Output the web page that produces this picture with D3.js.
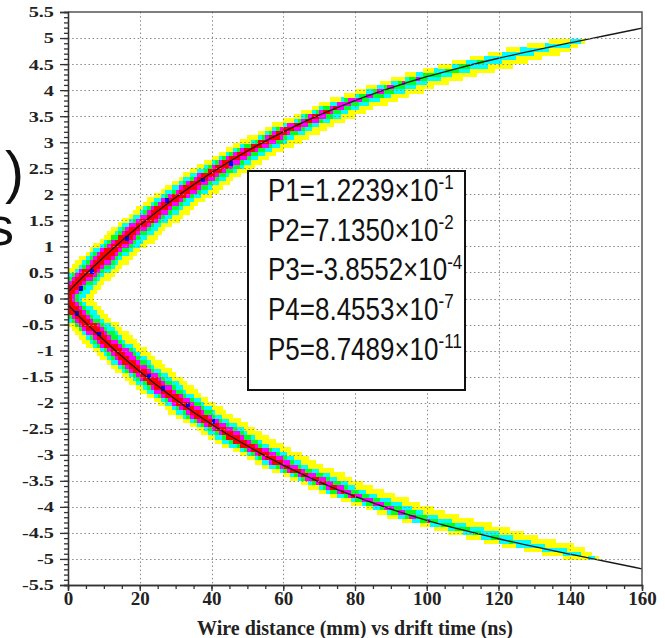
<!DOCTYPE html>
<html><head><meta charset="utf-8">
<script src="https://cdn.jsdelivr.net/npm/d3@7"></script>
<style>html,body{margin:0;padding:0;background:#fff;} svg{display:block;}</style>
</head><body>
<svg id="c" width="665" height="638"></svg>
<script>
// ---------------- data ----------------
const xMajor = [0,20,40,60,80,100,120,140,160];
const xMajorLabels = ["0","20","40","60","80","100","120","140","160"];
const yMajor = [-5.5,-5,-4.5,-4,-3.5,-3,-2.5,-2,-1.5,-1,-0.5,0,0.5,1,1.5,2,2.5,3,3.5,4,4.5,5,5.5];
const yMajorLabels = ["-5.5","-5","-4.5","-4","-3.5","-3","-2.5","-2","-1.5","-1","-0.5","0","0.5","1","1.5","2","2.5","3","3.5","4","4.5","5","5.5"];
const xGrid = [20,40,60,80,100,120,140];
const yGrid = [-5,-4.5,-4,-3.5,-3,-2.5,-2,-1.5,-1,-0.5,0,0.5,1,1.5,2,2.5,3,3.5,4,4.5,5];

// fit curve (|distance| vs drift time)
const fitT   = [0,2,5,10,15,20,30,40,50,60,70,80,90,100,110,120,130,140,150,160];
const fitMag = [0.122,0.264,0.470,0.798,1.109,1.402,1.939,2.414,2.832,3.199,3.520,3.800,4.043,4.257,4.444,4.612,4.765,4.909,5.049,5.190];

// 2D histogram band, sampled along drift time (1 ns x 0.08 mm bins)
const binT = 1, binY = 0.08;
const bandT   = [0,5,10,20,30,40,50,60,70,80,90,100,110,120,130,140,145,150];
const bandMag = [0.122,0.470,0.798,1.402,1.939,2.414,2.832,3.199,3.520,3.800,4.043,4.257,4.444,4.612,4.765,4.909,4.979,5.049];
const outerOff = [0.40,0.39,0.38,0.36,0.32,0.28,0.24,0.21,0.19,0.17,0.15,0.14,0.13,0.12,0.11,0.10,0.09,0.09];
const innerOff = [0.57,0.55,0.55,0.52,0.48,0.44,0.40,0.37,0.34,0.31,0.28,0.26,0.24,0.22,0.20,0.18,0.17,0.17];

// fraction of band width covered by each colour level (upper branch)
const upYellow  = [1,1,1,1,1,1,1,1,1,1,1,1,1,1,1,0.8,0,0];
const upCyan    = [0.72,0.72,0.72,0.7,0.7,0.68,0.66,0.64,0.62,0.6,0.58,0.52,0.48,0.45,0.4,0.25,0,0];
const upGreen   = [0.55,0.55,0.55,0.52,0.5,0.5,0.48,0.46,0.42,0.38,0.32,0.25,0.15,0,0,0,0,0];
const upMagenta = [0.42,0.42,0.4,0.38,0.36,0.36,0.34,0.32,0.28,0.2,0.1,0,0,0,0,0,0,0];
const upRed     = [0.25,0.25,0.24,0.22,0.22,0.2,0.2,0.16,0.1,0,0,0,0,0,0,0,0,0];
// lower branch
const loYellow  = [1,1,1,1,1,1,1,1,1,1,1,1,1,1,1,1,0.7,0];
const loCyan    = [0.72,0.72,0.72,0.7,0.7,0.68,0.66,0.64,0.62,0.6,0.58,0.52,0.48,0.45,0.4,0.32,0.15,0];
const loGreen   = [0.55,0.55,0.55,0.52,0.5,0.5,0.48,0.46,0.44,0.4,0.34,0.28,0.18,0.08,0,0,0,0];
const loMagenta = [0.42,0.42,0.4,0.38,0.36,0.36,0.34,0.32,0.3,0.24,0.14,0.06,0,0,0,0,0,0];
const loRed     = [0.25,0.25,0.24,0.22,0.22,0.2,0.2,0.18,0.12,0.06,0,0,0,0,0,0,0,0];

const levelColors = ["#ffff00","#00ffff","#00ff22","#ff00ff","#ff0000"];

// isolated highest-density (blue) cells: time, distance
const blueT = [3,6,16,27,37,45,2,8,22,26,33,40];
const blueY = [0.2,0.55,1.15,1.85,2.3,2.6,-0.3,-0.7,-1.45,-1.75,-2.05,-2.4];

// fit parameters box
const parNames = ["P1","P2","P3","P4","P5"];
const parMant  = ["1.2239","7.1350","-3.8552","8.4553","8.7489"];
const parExp   = ["-1","-2","-4","-7","-11"];

// ---------------- drawing ----------------
const W = 665, H = 638;
const svg = d3.select("#c");
const x = d3.scaleLinear().domain([0,160]).range([68,642]);
const y = d3.scaleLinear().domain([-5.5,5.5]).range([585,12]);

svg.append("rect").attr("width",W).attr("height",H).attr("fill","#fff");
svg.append("defs").append("clipPath").attr("id","clip")
  .append("rect").attr("x",x(0)).attr("y",y(5.5)).attr("width",x(160)-x(0)).attr("height",y(-5.5)-y(5.5));
const plot = svg.append("g").attr("clip-path","url(#clip)");

// rasterise the band levels into histogram bins
const cv = document.createElement("canvas"); cv.width = W; cv.height = H;
const ctx = cv.getContext("2d");
ctx.fillStyle = "#000"; ctx.fillRect(0,0,W,H);
ctx.globalCompositeOperation = "lighten";
function rasterBranch(sign, fracList) {
  fracList.forEach((fr, k) => {
    const pts = bandT.map((t,i)=>({t, i, f: fr[i]}))
      .filter(p => p.f > 0 || (p.i > 0 && fr[p.i-1] > 0));
    const area = d3.area().curve(d3.curveMonotoneX)
      .x(p => x(p.t))
      .y0(p => y(sign*(bandMag[p.i] - innerOff[p.i]*p.f)))
      .y1(p => y(sign*(bandMag[p.i] + outerOff[p.i]*p.f)))
      .context(ctx);
    ctx.beginPath(); area(pts);
    ctx.fillStyle = `rgb(${40*(k+1)},0,0)`; ctx.fill();
  });
}
rasterBranch(1,  [upYellow, upCyan, upGreen, upMagenta, upRed]);
rasterBranch(-1, [loYellow, loCyan, loGreen, loMagenta, loRed]);
const img = ctx.getImageData(0,0,W,H).data;
const cells = [];
const nT = Math.round(160/binT), nY = Math.round(11/binY);
for (let i = 0; i < nT; i++) {
  for (let j = 0; j < nY; j++) {
    const t0 = i*binT, v0 = -5.5 + j*binY;
    const px = Math.round(x(t0+binT/2)), py = Math.round(y(v0+binY/2));
    const lv = Math.round(img[(py*W+px)*4]/40);
    if (lv > 0) cells.push({t0, v0, lv});
  }
}
plot.append("g").attr("shape-rendering","crispEdges")
  .selectAll("rect").data(cells).join("rect")
  .attr("x",d=>x(d.t0)).attr("width",x(binT)-x(0)+0.4)
  .attr("y",d=>y(d.v0+binY)).attr("height",y(-5.5)-y(-5.5+binY)+0.4)
  .attr("fill",d=>levelColors[d.lv-1]);

plot.append("g").attr("shape-rendering","crispEdges")
  .selectAll("rect").data(blueT).join("rect")
  .attr("x",d=>x(Math.floor(d/binT)*binT)).attr("width",x(binT)-x(0)+0.4)
  .attr("y",(d,i)=>y(Math.floor(blueY[i]/binY)*binY+binY)).attr("height",y(-5.5)-y(-5.5+binY)+0.4)
  .attr("fill","#0000ff");

// grid
const grid = svg.append("g").attr("stroke","#8a8a8a").attr("stroke-width",1).attr("stroke-dasharray","1.5,2.6");
grid.selectAll("line.gx").data(xGrid).join("line").attr("class","gx")
  .attr("x1",d=>Math.round(x(d))+0.5).attr("x2",d=>Math.round(x(d))+0.5).attr("y1",y(5.5)).attr("y2",y(-5.5));
grid.selectAll("line.gy").data(yGrid).join("line").attr("class","gy")
  .attr("y1",d=>Math.round(y(d))+0.5).attr("y2",d=>Math.round(y(d))+0.5).attr("x1",x(0)).attr("x2",x(160));

// fit lines
const fitLine = sign => d3.line().curve(d3.curveMonotoneX).x((d,i)=>x(fitT[i])).y((d,i)=>y(sign*fitMag[i]));
plot.append("path").datum(fitT).attr("d",fitLine(1)).attr("fill","none").attr("stroke","#1a1a1a").attr("stroke-width",1.3);
plot.append("path").datum(fitT).attr("d",fitLine(-1)).attr("fill","none").attr("stroke","#1a1a1a").attr("stroke-width",1.3);

// frame
svg.append("path").attr("d",`M${x(0)},${y(5.5)}H${x(160)}V${y(-5.5)}`).attr("fill","none").attr("stroke","#555").attr("stroke-width",1.5);

// y axis
const yMinor = d3.range(-55,56,1).map(v=>v/10);
const yAxMinor = svg.append("g").attr("transform",`translate(${x(0)},0)`)
  .call(d3.axisLeft(y).tickValues(yMinor).tickSize(4).tickFormat(""));
const yAx = svg.append("g").attr("transform",`translate(${x(0)},0)`)
  .call(d3.axisLeft(y).tickValues(yMajor).tickSize(8).tickFormat((d,i)=>yMajorLabels[i]));
[yAxMinor,yAx].forEach(g=>{ g.selectAll("path,line").attr("stroke","#333").attr("stroke-width",1.3); });
yAx.selectAll("text").attr("font-family","Liberation Serif, serif").attr("font-weight","bold")
  .attr("font-size",14.5).attr("fill","#222").attr("x",-10).attr("dy","0.34em")
  .attr("transform","scale(1.4,1)");

// x axis
const xMinor = d3.range(0,161,5);
const xAxMinor = svg.append("g").attr("transform",`translate(0,${y(-5.5)})`)
  .call(d3.axisBottom(x).tickValues(xMinor).tickSize(4).tickFormat(""));
const xAx = svg.append("g").attr("transform",`translate(0,${y(-5.5)})`)
  .call(d3.axisBottom(x).tickValues(xMajor).tickSize(6).tickFormat((d,i)=>xMajorLabels[i]));
[xAxMinor,xAx].forEach(g=>{ g.selectAll("path,line").attr("stroke","#333").attr("stroke-width",1.3); });
xAx.selectAll("text").attr("font-family","Liberation Serif, serif").attr("font-weight","bold")
  .attr("font-size",19).attr("fill","#222").attr("y",20).attr("dy",0);

// x title
svg.append("text").attr("x",(x(0)+x(160))/2).attr("y",635).attr("text-anchor","middle")
  .attr("font-family","Liberation Serif, serif").attr("font-weight","bold").attr("font-size",20).attr("fill","#222")
  .text("Wire distance (mm) vs drift time (ns)");

// parameter box
svg.append("rect").attr("x",248).attr("y",171).attr("width",217).attr("height",219)
  .attr("fill","#fff").attr("stroke","#111").attr("stroke-width",2);
const pt = svg.append("g").attr("font-family","Liberation Sans, Arial, sans-serif").attr("fill","#111");
parNames.forEach((n,i)=>{
  const t = pt.append("text").attr("transform",`translate(268,${201+i*39.7}) scale(1,1.18)`).attr("font-size",26);
  t.append("tspan").text(`${n}=${parMant[i]}\u00d710`);
  t.append("tspan").attr("font-size",17).attr("dy",-10).text(parExp[i]);
});

// partial text fragments at left edge
svg.append("text").attr("x",24).attr("y",192).attr("text-anchor","end")
  .attr("font-family","Liberation Sans, Arial, sans-serif").attr("font-size",57).attr("fill","#111").text(")");
svg.append("text").attr("x",14).attr("y",245).attr("text-anchor","end")
  .attr("font-family","Liberation Sans, Arial, sans-serif").attr("font-size",54).attr("fill","#111").text("s");
</script>
</body></html>
